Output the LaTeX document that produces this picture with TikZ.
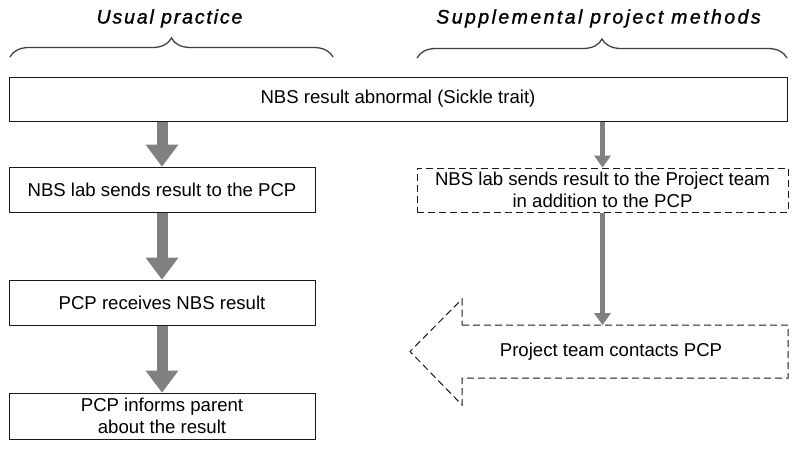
\documentclass[tikz,border=0pt]{standalone}
\usepackage{fontspec}
\setmainfont{Liberation Sans}
\newfontfamily\titlefontA[LetterSpace=9.5,FakeBold=1.3]{Liberation Sans}
\newfontfamily\titlefontB[LetterSpace=12.5,FakeBold=1.3]{Liberation Sans}
\usetikzlibrary{arrows.meta,decorations.pathreplacing,calc}
\begin{document}
\begin{tikzpicture}[x=1pt,y=-1pt,
  box/.style={draw=black!90, line width=1pt, fill=white, inner sep=0pt, font=\fontsize{18.6}{21.6}\selectfont, align=center},
  dbox/.style={box, dash pattern=on 7pt off 4pt},
  title/.style={inner sep=0pt},
  brace/.style={draw=black!75, line width=1.3pt, decorate, decoration={brace, amplitude=19pt, aspect=0.5}},
  bigarrow/.style={draw=black!50, line width=11pt, -{Triangle[length=22pt,width=33pt,line width=0pt]}},
  smallarrow/.style={draw=black!50, line width=5.5pt, -{Triangle[length=12pt,width=17pt,line width=0pt]}},
]
\useasboundingbox (0,0) rectangle (800,448);
% titles
\node[title, anchor=base, font=\titlefontA\fontsize{19.5}{22}\selectfont\itshape] (t1) at (169.5,23.5) {Usual practice};
\node[title, anchor=base, font=\titlefontB\fontsize{19.5}{22}\selectfont\itshape] (t2) at (598.5,23.5) {Supplemental project methods};
% braces
\coordinate (bl1) at (10,57);
\coordinate (bl2) at (333,57);
\coordinate (br1) at (417,58);
\coordinate (br2) at (787,58);
\draw[brace] (bl1) -- (bl2);
\draw[brace] (br1) -- (br2);
% boxes
\node[box, minimum width=778pt, minimum height=44pt] (top) at (398,99) {NBS result abnormal (Sickle trait)};
\node[box, minimum width=306pt, minimum height=45pt] (b2) at (162,189.5) {NBS lab sends result to the PCP};
\node[box, minimum width=306pt, minimum height=45pt] (b3) at (162,302.5) {PCP receives NBS result};
\node[box, minimum width=306pt, minimum height=46pt] (b4) at (162,416) {PCP informs parent\\about the result};
\node[dbox, minimum width=371pt, minimum height=44pt] (d1) at (602.5,190) {NBS lab sends result to the Project team\\in addition to the PCP};
% dashed block arrow
\draw[draw=black!90, line width=1pt, dash pattern=on 7pt off 4pt, fill=white]
  (462,325) -- (788,325) -- (788,378) -- (462,378) -- (462,405) -- (410,351.5) -- (462,299) -- cycle;
\node[font=\fontsize{18.6}{21.6}\selectfont, inner sep=0pt] (pt) at (611,351.5) {Project team contacts PCP};
\coordinate (ptop) at (602.5,325);
% connectors
\draw[bigarrow] (top.south -| b2.north) -- (b2.north);
\draw[bigarrow] (b2.south) -- (b3.north);
\draw[bigarrow] (b3.south) -- (b4.north);
\draw[smallarrow] (top.south -| d1.north) -- (d1.north);
\draw[smallarrow] (d1.south) -- (ptop);
\end{tikzpicture}
\end{document}
